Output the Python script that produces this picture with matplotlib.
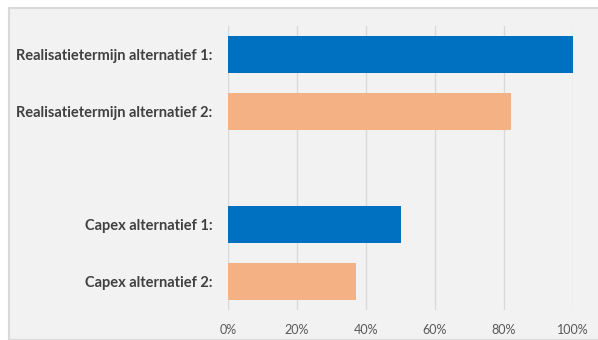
import matplotlib.pyplot as plt
from matplotlib.patches import Rectangle
from matplotlib.ticker import PercentFormatter

categories = ["Realisatietermijn alternatief 1:", "Realisatietermijn alternatief 2:", "",
              "Capex alternatief 1:", "Capex alternatief 2:"]
values = [1.00, 0.82, 0.0, 0.50, 0.37]
colors = ["#0070c0", "#f4b183", "none", "#0070c0", "#f4b183"]
xticks = [0, 0.2, 0.4, 0.6, 0.8, 1.0]

W, H = 598, 340
fig = plt.figure(figsize=(W / 100, H / 100), dpi=100)
fig.patch.set_facecolor("white")
fig.patches.append(Rectangle((9 / W, 0), 1, 1 - 8 / H, transform=fig.transFigure,
                             facecolor="#f2f2f2", edgecolor="#d9d9d9", lw=1.5, zorder=-10))

ax = fig.add_axes([228 / W, 1 - 310 / H, 345 / W, 284 / H])
ax.set_facecolor("none")
pos = list(range(len(categories)))
ax.barh(pos, values, height=0.65, color=colors, zorder=3)
ax.set_xlim(0, 1.0)
ax.set_ylim(len(categories) - 0.5, -0.5)
ax.set_xticks(xticks)
ax.xaxis.set_major_formatter(PercentFormatter(1.0, decimals=0))
ax.set_yticks(pos)
ax.set_yticklabels(categories, fontweight="bold", color="#404040", fontsize=10.5, family="Lato")
ax.grid(axis="x", color="#d9d9d9", lw=1, zorder=0)
for s in ax.spines.values():
    s.set_visible(False)
ax.tick_params(axis="y", length=0, pad=11)
ax.tick_params(axis="x", length=0, pad=10, colors="#595959", labelsize=9)
for t in ax.get_xticklabels():
    t.set_family("Lato")

fig.savefig("out.png", dpi=100)
